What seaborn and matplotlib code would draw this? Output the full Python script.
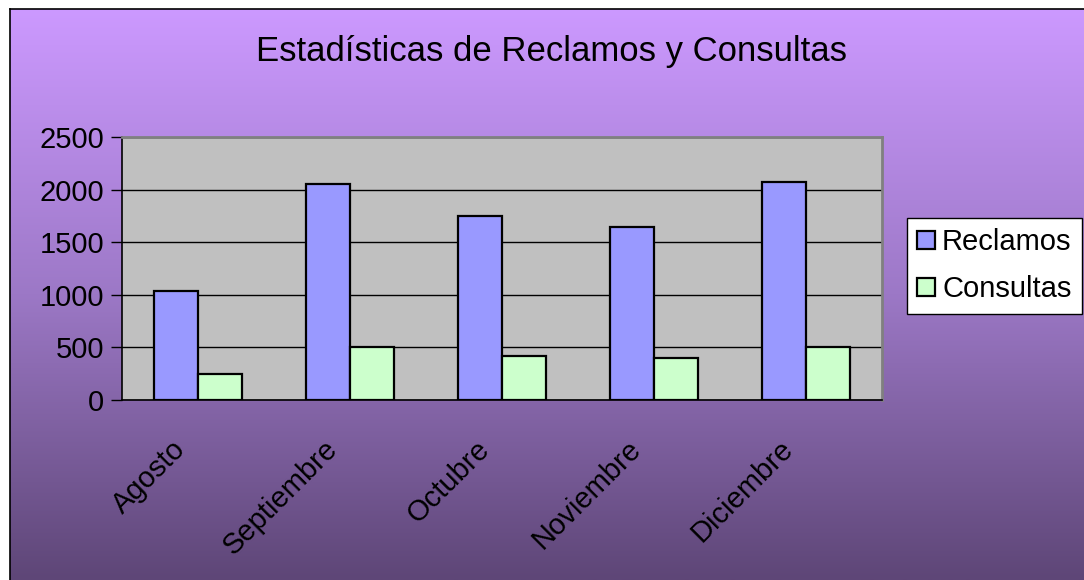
import numpy as np
import pandas as pd
import matplotlib
matplotlib.use("Agg")
import matplotlib.pyplot as plt
import matplotlib.transforms as mtransforms
import seaborn as sns
from matplotlib.colors import LinearSegmentedColormap

meses = ["Agosto", "Septiembre", "Octubre", "Noviembre", "Diciembre"]
reclamos = [1040, 2050, 1750, 1640, 2070]
consultas = [250, 505, 420, 400, 505]
series = ["Reclamos", "Consultas"]
colores = ["#9999FF", "#CCFFCC"]
y_ticks = [0, 500, 1000, 1500, 2000, 2500]

df = pd.DataFrame({
    "Mes": meses * 2,
    "Valor": reclamos + consultas,
    "Serie": [series[0]] * len(meses) + [series[1]] * len(meses),
})

sns.set_style("white")
plt.rcParams["font.family"] = ["Liberation Sans", "DejaVu Sans"]
plt.rcParams["text.color"] = "black"
plt.rcParams["xtick.color"] = "black"
plt.rcParams["ytick.color"] = "black"

W, H = 1084, 580
fig = plt.figure(figsize=(W / 100, H / 100), dpi=100)
fig.patch.set_facecolor("white")

# fondo con degradado violeta
bg = fig.add_axes([10 / W, 0, 1 - 10 / W, 1 - 9 / H])
grad = LinearSegmentedColormap.from_list("fondo", ["#CC99FF", "#9C78C6", "#5E4677"])
bg.imshow(np.linspace(0, 1, 256).reshape(-1, 1), aspect="auto", cmap=grad,
          extent=[0, 1, 0, 1])
bg.set_xticks([])
bg.set_yticks([])
for s in ["right", "bottom"]:
    bg.spines[s].set_visible(False)
for s in ["left", "top"]:
    bg.spines[s].set_color("black")
    bg.spines[s].set_linewidth(1.2)
bg.set_zorder(0)

ax = fig.add_axes([122 / W, 1 - 400 / H, 760 / W, 263 / H])
ax.set_zorder(1)
ax.set_facecolor("#C0C0C0")

sns.barplot(data=df, x="Mes", y="Valor", hue="Serie", palette=colores,
            saturation=1, width=0.58, edgecolor="black", linewidth=1.6,
            ax=ax, zorder=3)

ax.set_ylim(0, 2500)
ax.set_xlim(-0.5, len(meses) - 0.5)
ax.set_yticks(y_ticks)
ax.set_yticklabels([str(t) for t in y_ticks], fontsize=21)
ax.yaxis.grid(True, color="black", linewidth=1)
ax.set_axisbelow(True)
ax.set_xlabel("")
ax.set_ylabel("")

ax.set_xticks(range(len(meses)))
ax.set_xticklabels(meses, fontsize=21, rotation=45, ha="right",
                   rotation_mode="anchor")
ax.tick_params(axis="x", which="major", length=0, pad=25)
desplazamiento = mtransforms.ScaledTranslation(-27 / 100, 0, fig.dpi_scale_trans)
for lbl in ax.get_xticklabels():
    lbl.set_transform(lbl.get_transform() + desplazamiento)
ax.set_xticks(np.arange(-0.5, len(meses), 1), minor=True)
ax.tick_params(axis="x", which="minor", length=8, width=1, color="black",
               direction="out")
ax.tick_params(axis="y", length=8, width=1, color="black", direction="out",
               left=True, pad=5)

for s in ["left", "bottom"]:
    ax.spines[s].set_color("black")
    ax.spines[s].set_linewidth(1.2)
for s in ["top", "right"]:
    ax.spines[s].set_color("#808080")
    ax.spines[s].set_linewidth(2)

leg = ax.legend(title=None, loc="center left", bbox_to_anchor=(1.033, 0.51),
                fontsize=21, frameon=True, fancybox=False, framealpha=1,
                edgecolor="black", handlelength=0.6, handleheight=0.6,
                handletextpad=0.25, borderpad=0.35, labelspacing=0.65,
                borderaxespad=0)
leg.get_frame().set_linewidth(1)

fig.text(551 / W, 1 - 51 / H, "Estadísticas de Reclamos y Consultas",
         fontsize=25, ha="center", va="center", color="black")

fig.savefig("out.png", dpi=100)
